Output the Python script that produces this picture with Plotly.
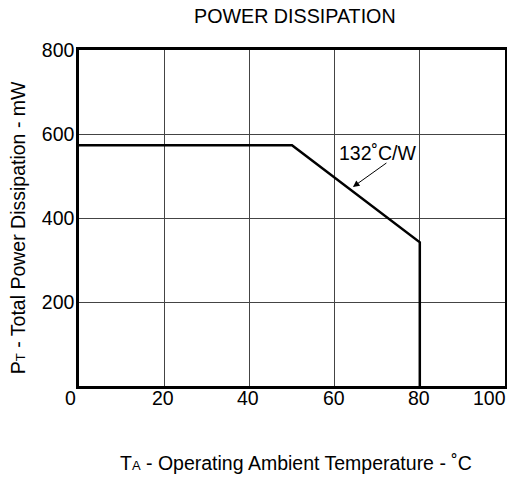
import plotly.graph_objects as go

# Data
temp_c = [0, 50, 80, 80]
power_mw = [573, 573, 342, 0]
x_ticks = [0, 20, 40, 60, 80, 100]
y_ticks = [200, 400, 600, 800]
slope_label = "132˚C/W"

FONT = "Liberation Sans, Arial, sans-serif"
FS = 19.5

fig = go.Figure()
fig.add_trace(go.Scatter(
    x=temp_c, y=power_mw, mode="lines",
    line=dict(color="black", width=2.5),
    showlegend=False, hoverinfo="skip",
))

# the page body has an 8px default margin, so the margins are reduced by 8px
fig.update_layout(
    width=515, height=480,
    margin=dict(l=71, r=18, t=42, b=102),
    paper_bgcolor="white", plot_bgcolor="white",
    font=dict(family=FONT, size=FS, color="black"),
    showlegend=False,
)

fig.update_xaxes(
    range=[0, 100], tickvals=x_ticks, showticklabels=False,
    showgrid=True, gridcolor="#444444", gridwidth=1,
    showline=True, linecolor="black", linewidth=2.5, mirror=True,
    zeroline=False, ticks="",
)
fig.update_yaxes(
    range=[0, 800], tickvals=y_ticks, ticktext=[str(v) for v in y_ticks],
    showgrid=True, gridcolor="#444444", gridwidth=1,
    showline=True, linecolor="black", linewidth=2.5, mirror=True,
    zeroline=False, ticks="", ticklabelstandoff=-2,
    tickfont=dict(size=FS),
)

# x tick labels (end labels are offset in the reference)
x_shift = {0: -8.5, 100: 3}
x_anchor = {100: "right"}
for v in x_ticks:
    fig.add_annotation(
        x=v, y=0, xref="x", yref="y", text=str(v), showarrow=False,
        xanchor=x_anchor.get(v, "center"), yanchor="top", yshift=1,
        xshift=x_shift.get(v, -1), font=dict(size=FS),
    )

# Title
fig.add_annotation(
    x=0.506, y=1.101, xref="paper", yref="paper", text="POWER DISSIPATION",
    showarrow=False, xanchor="center", yanchor="middle", font=dict(size=19.7),
)
# Axis titles
fig.add_annotation(
    x=0.51, y=-0.229, xref="paper", yref="paper",
    text="T<span style='font-size:13px'>A</span> - Operating Ambient Temperature - ˚C",
    showarrow=False, xanchor="center", yanchor="middle", font=dict(size=FS),
)
fig.add_annotation(
    x=-0.143, y=0.47, xref="paper", yref="paper", textangle=-90,
    text="P<span style='font-size:13px'>T</span> - Total Power Dissipation - mW",
    showarrow=False, xanchor="center", yanchor="middle", font=dict(size=FS),
)

# Slope label and arrow
fig.add_annotation(
    x=64.3, y=474, xref="x", yref="y", text="", showarrow=True,
    ax=35, ay=-25, axref="pixel", ayref="pixel",
    arrowhead=2, arrowsize=1.3, arrowwidth=1, arrowcolor="black",
)
fig.add_annotation(
    x=70.2, y=555, xref="x", yref="y", text=slope_label, showarrow=False,
    xanchor="center", yanchor="middle", font=dict(size=FS),
)

fig.write_html("out.html")
